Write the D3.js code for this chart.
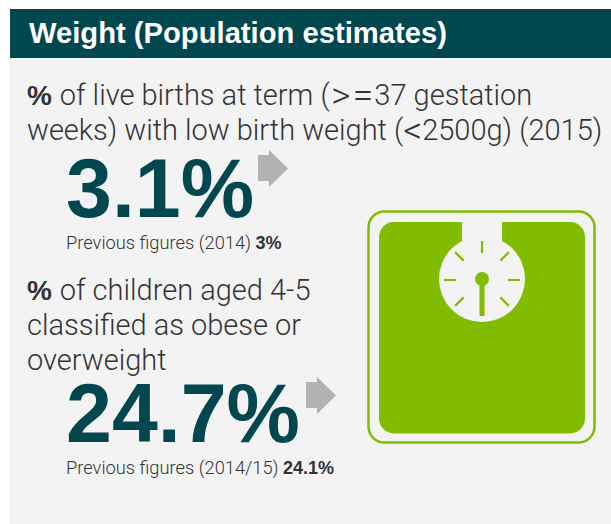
<!DOCTYPE html>
<html>
<head>
<meta charset="utf-8">
<script src="https://cdn.jsdelivr.net/npm/d3@7"></script>
<style>
html,body{margin:0;padding:0;background:#fff;}
svg{display:block;font-family:"Liberation Sans",sans-serif;}
</style>
</head>
<body>
<svg id="chart" width="611" height="524"></svg>
<script>
var titleText = "Weight (Population estimates)";
var questions = [
	["of live births at term (>=37 gestation", "weeks) with low birth weight (<2500g) (2015)"],
	["of children aged 4-5", "classified as obese or", "overweight"]
];
var values = ["3.1%", "24.7%"];
var previousLabels = ["Previous figures (2014) ", "Previous figures (2014/15) "];
var previousValues = ["3%", "24.1%"];

var dark = "#00474f", grey = "#f3f3f3", green = "#82bc00", arrowGrey = "#b2b2b2", ink = "#333333";
var lightFont = "Roboto, sans-serif";
var symbolGap = {">":1.5, "=":1, "<":0};

var svg = d3.select("#chart");

svg.append("rect").attr("x",10).attr("y",9).attr("width",601).attr("height",515).attr("fill",grey);
svg.append("rect").attr("x",10).attr("y",9).attr("width",601).attr("height",49).attr("fill",dark);
svg.append("text").attr("x",29).attr("y",43).attr("fill","#fff")
	.attr("font-size",29.2).attr("font-weight","bold").text(titleText);

// one block per indicator
var blocks = [
	{top:105, leading:35, valueY:217, prevY:249, arrowX:258, arrowY:150},
	{top:300, leading:35, valueY:442, prevY:474, arrowX:306, arrowY:377}
];

blocks.forEach(function(b,i){
	questions[i].forEach(function(line,j){
		var t = svg.append("text").attr("x",27).attr("y",b.top + j*b.leading)
			.attr("fill",ink).attr("font-size",29).attr("font-family",lightFont).attr("font-weight",300);
		if (j === 0){
			t.append("tspan").attr("font-weight","bold").attr("font-family","Liberation Sans").attr("font-size",28).text("% ");
		}
		// the < > = signs are drawn wide in the original
		var gap = 0, shift = 0;
		line.split(/([<>=])/).forEach(function(part){
			if (part === "") return;
			var wide = part in symbolGap;
			var s = t.append("tspan").attr("dx",gap).attr("dy",(wide ? 2.5 : 0)-shift).text(part);
			if (wide){
				s.attr("font-size",37).attr("dx",gap+symbolGap[part]);
				gap = symbolGap[part];
				shift = 2.5;
			} else {
				gap = 0;
				shift = 0;
			}
		});
	});
	svg.append("text").attr("x",66).attr("y",b.valueY).attr("fill",dark)
		.attr("font-size",82.5).attr("font-weight","bold").text(values[i]);
	var prev = svg.append("text").attr("x",66).attr("y",b.prevY)
		.attr("fill",ink).attr("font-size",18.3).attr("font-family",lightFont).attr("font-weight",300);
	prev.append("tspan").text(previousLabels[i]);
	prev.append("tspan").attr("font-weight","bold").attr("font-family","Liberation Sans").attr("font-size",18).text(previousValues[i]);
	svg.append("path")
		.attr("transform","translate("+b.arrowX+","+b.arrowY+")")
		.attr("d","M0,5H11V0L30,18.5L11,37V31H0Z")
		.attr("fill",arrowGrey);
});

// scales icon
var icon = svg.append("g");
icon.append("rect").attr("x",368.5).attr("y",211.5).attr("width",226).attr("height",231).attr("rx",16)
	.attr("fill","none").attr("stroke",green).attr("stroke-width",2.5);
icon.append("rect").attr("x",379).attr("y",222).attr("width",206).attr("height",211.5).attr("rx",15)
	.attr("fill",green);
icon.append("rect").attr("x",462).attr("y",221).attr("width",40).attr("height",30).attr("fill",grey);
var cx = 482, cy = 279;
icon.append("circle").attr("cx",cx).attr("cy",cy).attr("r",43).attr("fill",grey);
d3.range(8).forEach(function(k){
	if (k === 4) return;
	var a = k*Math.PI/4;
	icon.append("line")
		.attr("x1",cx+Math.sin(a)*26).attr("y1",cy-Math.cos(a)*26+(k==2||k==6?1:0))
		.attr("x2",cx+Math.sin(a)*38).attr("y2",cy-Math.cos(a)*38+(k==2||k==6?1:0))
		.attr("stroke",green).attr("stroke-width",2.2);
});
icon.append("circle").attr("cx",cx).attr("cy",cy).attr("r",7).attr("fill",green);
icon.append("rect").attr("x",cx-2.5).attr("y",cy).attr("width",5).attr("height",37).attr("fill",green);
</script>
</body>
</html>
